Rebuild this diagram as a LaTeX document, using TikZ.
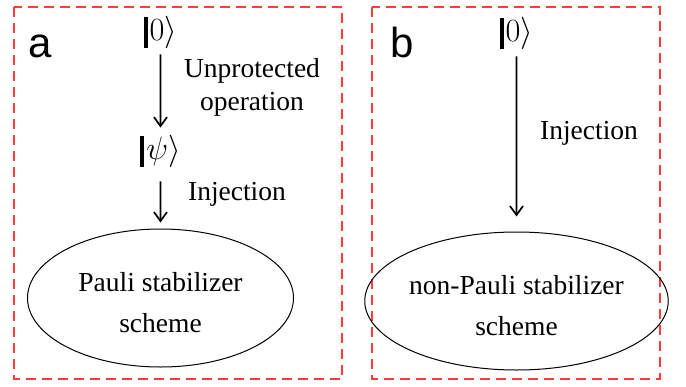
\documentclass[tikz,border=0pt]{standalone}
\usepackage{amsmath}
\usepackage{fontspec}
\setmainfont{Liberation Serif}
\newfontfamily\panelface{Liberation Sans}
\usepackage{tikz}
\usetikzlibrary{arrows.meta,shapes.geometric}
\definecolor{framered}{RGB}{250,60,60}
% ket with a heavy bar
\newcommand{\qket}[1]{\rule[-6pt]{3pt}{24pt}\kern1.5pt$#1\rangle$}

\begin{document}
\begin{tikzpicture}[x=1pt,y=-1pt]
\tikzstyle{every node}=[inner sep=0pt]
\tikzstyle{panel}=[anchor=base west,font=\panelface\fontsize{42}{42}\selectfont]
\tikzstyle{ket}=[font=\fontsize{24}{24}\selectfont,scale=1.3]
\tikzstyle{txt}=[font=\fontsize{27.5}{33}\selectfont,align=center]
\tikzstyle{scheme}=[ellipse,draw,line width=1pt,minimum width=266pt,minimum height=138pt,font=\fontsize{27.5}{41}\selectfont,align=center]
\tikzstyle{frame}=[draw=framered,dash pattern=on 10pt off 6pt,line width=1.2pt]
\tikzstyle{inj}=[-{Straight Barb[length=9pt,width=13pt,line width=1.7pt]},line width=1.7pt]
\useasboundingbox (0,0) rectangle (686,386);
% the two dashed panels
\draw[frame] (14,7) rectangle (342,379);
\draw[frame] (372,7) rectangle (660,379);
% panel a
\node[panel] (pa) at (28,57) {a};
\node[ket] (z1) at (160.5,32) {\qket{0}};
\node[ket] (psi) at (160.5,151) {\qket{\psi}};
\node[scheme] (s1) at (160.5,298) {\strut Pauli stabilizer\\scheme};
\node[txt] (t1) at (252,87) {Unprotected\\operation};
\node[txt] (t2) at (237,194) {Injection};
% panel b
\node[panel] (pb) at (390.5,57) {b};
\node[ket] (z2) at (516.5,33) {\qket{0}};
\node[scheme] (s2) at (516.5,301) {\strut non-Pauli stabilizer\\scheme};
\node[txt] (t3) at (589,133) {Injection};
\foreach \from/\to/\sa/\sb in {z1/psi/6/7,psi/s1/14/6,z2/s2/7/15}
\draw[inj,shorten <=\sa pt,shorten >=\sb pt] (\from) -- (\to);
\end{tikzpicture}
\end{document}
